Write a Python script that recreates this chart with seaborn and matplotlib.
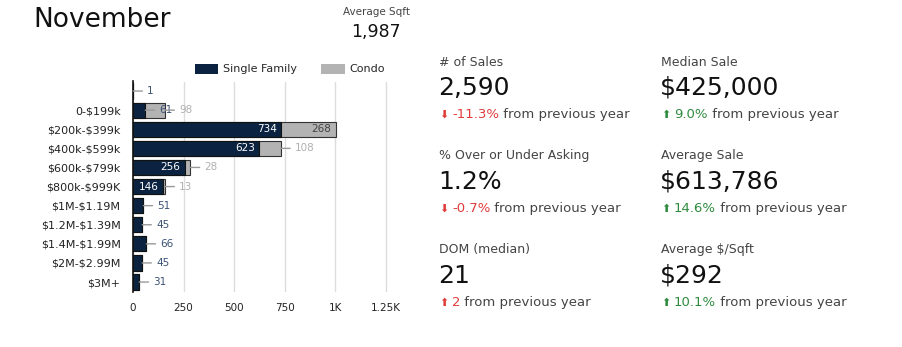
import matplotlib
matplotlib.use("Agg")
import matplotlib.pyplot as plt
import matplotlib.patches as mpatches
import seaborn as sns
import pandas as pd

# ---- data ----
categories = ["", "0-$199k", "$200k-$399k", "$400k-$599k", "$600k-$799k", "$800k-$999K",
              "$1M-$1.19M", "$1.2M-$1.39M", "$1.4M-$1.99M", "$2M-$2.99M", "$3M+"]
single_family = [1, 61, 734, 623, 256, 146, 51, 45, 66, 45, 31]
condo = [0, 98, 268, 108, 28, 13, 0, 0, 0, 0, 0]
x_ticks = [0, 250, 500, 750, 1000, 1250]
x_tick_labels = ["0", "250", "500", "750", "1K", "1.25K"]

title = "November"
avg_sqft_label = "Average Sqft"
avg_sqft_value = "1,987"

stat_titles = ["# of Sales", "Median Sale", "% Over or Under Asking", "Average Sale",
               "DOM (median)", "Average $/Sqft"]
stat_values = ["2,590", "$425,000", "1.2%", "$613,786", "21", "$292"]
stat_changes = ["-11.3%", "9.0%", "-0.7%", "14.6%", "2", "10.1%"]
stat_up = [False, True, False, True, True, True]
stat_good = [False, True, False, True, False, True]

sns.set_theme(style="white")
plt.rcParams["font.family"] = ["DejaVu Sans"]
plt.rcParams["text.parse_math"] = False

NAVY = "#0b2340"
GRAY = "#b3b3b3"
RED = "#e03c3c"
GREEN = "#2e8b3e"
TXT = "#444444"

W, H = 903, 347
fig = plt.figure(figsize=(W / 100, H / 100), dpi=100)

def fx(px):
    return px / W

def fy(py):
    return 1 - py / H

ax = fig.add_axes([fx(133), fy(291.6), fx(400) - fx(133), fy(81.5) - fy(291.6)])

df = pd.DataFrame({"cat": categories, "sf": single_family, "condo": condo})
df["total"] = df["sf"] + df["condo"]

sns.barplot(data=df, y="cat", x="total", orient="h", color=GRAY, edgecolor="#333333",
            linewidth=0.8, width=0.8, saturation=1, ax=ax, order=categories)
sns.barplot(data=df, y="cat", x="sf", orient="h", color=NAVY, edgecolor="#111111",
            linewidth=0.8, width=0.8, saturation=1, ax=ax, order=categories)

ax.set_xlim(0, 1320)
ax.set_ylim(10.5, -0.5)
ax.set_xticks(x_ticks)
ax.set_xticklabels(x_tick_labels)
ax.set_xlabel("")
ax.set_ylabel("")
ax.grid(axis="x", color="#dddddd", linewidth=1)
ax.set_axisbelow(True)
for s in ["top", "right", "bottom"]:
    ax.spines[s].set_visible(False)
ax.spines["left"].set_color("#111111")
ax.spines["left"].set_linewidth(1.2)
ax.tick_params(axis="x", length=0, labelsize=7.5, colors="#222222", pad=8)
ax.tick_params(axis="y", length=0, labelsize=8, colors="#222222", pad=9)

# value labels
for i, (sf, cd) in enumerate(zip(single_family, condo)):
    if sf >= 100:
        ax.annotate(str(sf), xy=(sf, i), xytext=(-3, 0), textcoords="offset points",
                    ha="right", va="center", color="white", fontsize=7.5)
    elif sf > 0:
        ax.annotate(str(sf), xy=(sf, i), xytext=(10, 0), textcoords="offset points",
                    ha="left", va="center", color="#3a5275", fontsize=7.5,
                    arrowprops=dict(arrowstyle="-", color="#999999", lw=1, shrinkA=1, shrinkB=0))
    tot = sf + cd
    if cd >= 200:
        ax.annotate(str(cd), xy=(tot, i), xytext=(-3, 0), textcoords="offset points",
                    ha="right", va="center", color="#444444", fontsize=7.5)
    elif cd > 0:
        ax.annotate(str(cd), xy=(tot, i), xytext=(10, 0), textcoords="offset points",
                    ha="left", va="center", color="#b0b0b0", fontsize=7.5,
                    arrowprops=dict(arrowstyle="-", color="#999999", lw=1, shrinkA=1, shrinkB=0))

handles = [mpatches.Patch(facecolor=NAVY, edgecolor="none", label="Single Family"),
           mpatches.Patch(facecolor=GRAY, edgecolor="none", label="Condo")]
fig.legend(handles=handles, loc="center left", bbox_to_anchor=(fx(195), fy(69)), ncol=2,
           frameon=False, fontsize=8, handlelength=2.1, handleheight=1.0,
           handletextpad=0.4, columnspacing=2.2, borderaxespad=0, borderpad=0)

# header texts
fig.text(fx(33), fy(20), title, fontsize=19, color="#111111", va="center", ha="left")
fig.text(fx(377), fy(12), avg_sqft_label, fontsize=7.5, color=TXT, va="center", ha="center")
fig.text(fx(376), fy(32), avg_sqft_value, fontsize=12.5, color="#111111", va="center", ha="center")

# stats
col_x = [439, 661]
row_y = [62, 156, 250]
change_texts = []
for k in range(6):
    cx = col_x[k % 2]
    ry = row_y[k // 2]
    fig.text(fx(cx), fy(ry), stat_titles[k], fontsize=9, color=TXT, va="center", ha="left")
    fig.text(fx(cx - 1), fy(ry + 26), stat_values[k], fontsize=18, color="#111111",
             va="center", ha="left")
    col = GREEN if stat_good[k] else RED
    arrow = "\u2B06" if stat_up[k] else "\u2B07"
    fig.text(fx(cx), fy(ry + 56), arrow, fontsize=8, color=col, va="baseline", ha="left")
    t = fig.text(fx(cx + 13), fy(ry + 56), stat_changes[k], fontsize=9.5, color=col,
                 va="baseline", ha="left")
    change_texts.append((t, ry))

fig.canvas.draw()
renderer = fig.canvas.get_renderer()
for t, ry in change_texts:
    bb = t.get_window_extent(renderer)
    x1 = bb.x1 / (W)
    fig.text(x1, fy(ry + 56), " from previous year", fontsize=9.5, color=TXT,
             va="baseline", ha="left")

fig.savefig("out.png", dpi=100)
